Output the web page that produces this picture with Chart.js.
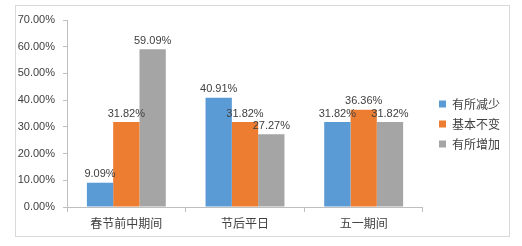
<!DOCTYPE html>
<html>
<head>
<meta charset="utf-8">
<script src="https://cdn.jsdelivr.net/npm/chart.js@4/dist/chart.umd.min.js"></script>
<style>
  html, body { margin: 0; padding: 0; background: #fff; }
  #wrap { width: 522px; height: 246px; position: relative; }
</style>
</head>
<body>
<div id="wrap"><canvas id="chart" width="522" height="246"></canvas></div>
<script>
// chart data
const categories = ['春节前中期间', '节后平日', '五一期间'];
const seriesNames = ['有所减少', '基本不变', '有所增加'];
const decreased = [9.09, 40.91, 31.82];
const unchanged = [31.82, 31.82, 36.36];
const increased = [59.09, 27.27, 31.82];
const yTicks = [0, 10, 20, 30, 40, 50, 60, 70];

const colors = ['#5B9BD5', '#ED7D31', '#A5A5A5'];
const textColor = '#404040';
const latinFont = "'Liberation Sans', 'Noto Sans CJK SC', sans-serif";
const cjkFont = "'Noto Sans CJK SC', sans-serif";

// outer frame + white background
const framePlugin = {
  id: 'frame',
  beforeDraw(chart) {
    const ctx = chart.ctx;
    ctx.save();
    ctx.fillStyle = '#fff';
    ctx.fillRect(0, 0, chart.width, chart.height);
    ctx.strokeStyle = '#d9d9d9';
    ctx.lineWidth = 1;
    ctx.strokeRect(15.5, 5.5, 494, 231);
    ctx.restore();
  }
};

// nudge the legend: a bit of gap from the plot, and a bit higher
const legendNudge = {
  id: 'legendNudge',
  afterLayout(chart) {
    const lg = chart.legend;
    if (!lg) return;
    lg.left += 8; lg.right += 8;
    lg.top -= 9; lg.bottom -= 9;
  }
};

// value labels above each bar
const valueLabels = {
  id: 'valueLabels',
  afterDatasetsDraw(chart) {
    const ctx = chart.ctx;
    ctx.save();
    ctx.font = '11px ' + latinFont;
    ctx.fillStyle = textColor;
    ctx.textAlign = 'center';
    ctx.textBaseline = 'bottom';
    chart.data.datasets.forEach((ds, i) => {
      chart.getDatasetMeta(i).data.forEach((bar, j) => {
        ctx.fillText(ds.data[j].toFixed(2) + '%', bar.x, bar.y - 3);
      });
    });
    ctx.restore();
  }
};

const seriesData = [decreased, unchanged, increased];

new Chart(document.getElementById('chart'), {
  type: 'bar',
  data: {
    labels: categories,
    datasets: seriesNames.map((name, i) => ({
      label: name,
      data: seriesData[i],
      backgroundColor: colors[i],
      categoryPercentage: 0.665,
      barPercentage: 1.0
    }))
  },
  options: {
    responsive: false,
    animation: false,
    layout: { padding: { left: 0, right: 20, top: 20, bottom: 0 } },
    plugins: {
      legend: {
        position: 'right',
        labels: {
          boxWidth: 7,
          boxHeight: 7,
          padding: 8,
          color: textColor,
          font: { family: cjkFont, size: 12 }
        }
      },
      tooltip: { enabled: false }
    },
    scales: {
      x: {
        grid: { drawOnChartArea: false, drawTicks: true, tickLength: 5, color: '#bfbfbf', offset: true },
        border: { color: '#bfbfbf' },
        ticks: { color: textColor, font: { family: cjkFont, size: 12 }, padding: 4 },
        afterFit(scale) { scale.height = 39; }
      },
      y: {
        min: 0,
        max: 70,
        afterBuildTicks(scale) { scale.ticks = yTicks.map(v => ({ value: v })); },
        grid: { drawOnChartArea: false, drawTicks: true, tickLength: 4, color: '#bfbfbf' },
        border: { color: '#bfbfbf' },
        ticks: {
          color: textColor,
          font: { family: latinFont, size: 11 },
          padding: 8,
          callback: v => v.toFixed(2) + '%'
        },
        afterFit(scale) { scale.width = 67; }
      }
    }
  },
  plugins: [framePlugin, legendNudge, valueLabels]
});
</script>
</body>
</html>
